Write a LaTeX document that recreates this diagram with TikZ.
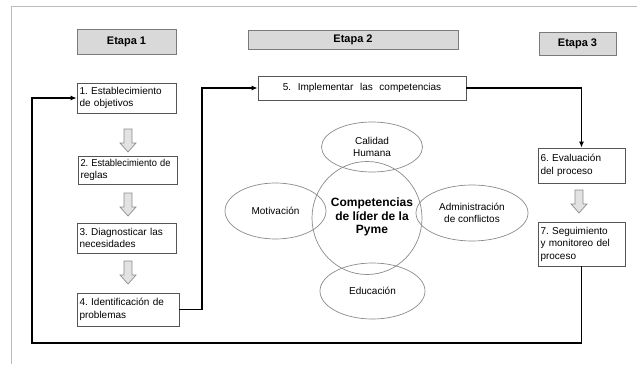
\documentclass[tikz,border=0pt]{standalone}
\usepackage{fontspec}
\usepackage{graphicx}
\setmainfont{Liberation Sans}
\usetikzlibrary{shapes.geometric,arrows.meta,calc}
\frenchspacing
\definecolor{framegray}{HTML}{BBBBBB}
\definecolor{boxline}{HTML}{555555}
\definecolor{stagefill}{HTML}{D9D9D9}
\definecolor{stageline}{HTML}{7A7A7A}
\definecolor{ellline}{HTML}{8A8A8A}
\definecolor{arrfill}{HTML}{E2E2E2}
\definecolor{arrline}{HTML}{8C8C8C}
\tikzset{
  stagebox/.style={draw=stageline, fill=stagefill, line width=0.8pt, font=\bfseries\fontsize{11}{13}\selectfont, inner sep=0pt},
  stepbox/.style={draw=boxline, line width=0.7pt, fill=white, align=left, inner sep=0pt, font=\fontsize{10}{12.5}\selectfont, anchor=center},
  ell/.style={draw=ellline, line width=0.7pt, ellipse, inner sep=0pt, align=center, font=\fontsize{10}{11.5}\selectfont},
  conn/.style={draw=black, line width=1.5pt, -{Latex[length=6pt,width=5pt]}},
  garrow/.pic={\draw[draw=arrline, fill=arrfill, line width=0.7pt]
     (-4,0) -- (4,0) -- (4,14) -- (8,14) -- (0,23) -- (-8,14) -- (-4,14) -- cycle;}
}
\begin{document}
\begin{tikzpicture}[x=1pt,y=-1pt]
\useasboundingbox (0,0) rectangle (637,364);
% frame
\draw[framegray, line width=0.8pt] (11,364) -- (11,6) -- (637,6);
% stage headers
\node[stagebox, minimum width=99pt, minimum height=25pt] (e1) at (126.5,41.5) {Etapa 1};
\node[stagebox, minimum width=210pt, minimum height=19pt] (e2) at (353,39.5) {Etapa 2};
\node[stagebox, minimum width=77pt, minimum height=23pt] (e3) at (577.5,43.5) {Etapa 3};
% steps
\node[stepbox, minimum width=99pt, minimum height=30pt, text width=94pt] (b1) at (126.5,98) {1. Establecimiento\\de objetivos};
\node[stepbox, minimum width=99pt, minimum height=28pt, text width=94pt] (b2) at (127.5,170) {\scalebox{0.93}[1]{2. Establecimiento de}\\reglas};
\node[stepbox, minimum width=99pt, minimum height=30pt, text width=94pt] (b3) at (126.5,238) {3. Diagnosticar las\\necesidades};
\node[stepbox, minimum width=102pt, minimum height=33pt, text width=97pt] (b4) at (128,309.5) {4. Identificación de\\problemas};
\node[stepbox, minimum width=208pt, minimum height=24pt, align=center, text width=200pt] (b5) at (362,88) {5.\ \ Implementar\ \ las\ \ competencias};
\node[stepbox, minimum width=87pt, minimum height=35pt, text width=82pt] (b6) at (581.5,165.5) {6. Evaluación\\del proceso};
\node[stepbox, minimum width=87pt, minimum height=44pt, text width=82pt] (b7) at (581.5,244) {7. Seguimiento\\y monitoreo del\\proceso};
% gray block arrows
\pic at (128,129) {garrow};
\pic at (128,193) {garrow};
\pic at (128,261) {garrow};
\pic at (579,190) {garrow};
% ellipses
\node[ell, minimum width=110pt, minimum height=113pt] (core) at (367,218) {};
\node[align=center, inner sep=0pt, font=\bfseries\fontsize{12}{13.5}\selectfont] (coretxt) at (372,217) {Competencias\\de líder de la\\Pyme};
\node[ell, minimum width=101pt, minimum height=50pt] (cal) at (372,147) {Calidad\\Humana};
\node[ell, minimum width=101pt, minimum height=56pt] (mot) at (275.5,211) {Motivación};
\node[ell, minimum width=112pt, minimum height=56pt] (adm) at (472,213) {Administración\\de conflictos};
\node[ell, minimum width=105pt, minimum height=56pt] (edu) at (372.5,291) {Educación};
% connectors
\coordinate (k1) at (202,88);
\coordinate (k2) at (32,343);
\draw[conn] (b4.east) -| (k1) -- (b5.west);
\draw[conn] (b5.east) -| (b6.north);
\draw[conn] (b7.south) |- (k2) |- (b1.west);
\end{tikzpicture}
\end{document}
